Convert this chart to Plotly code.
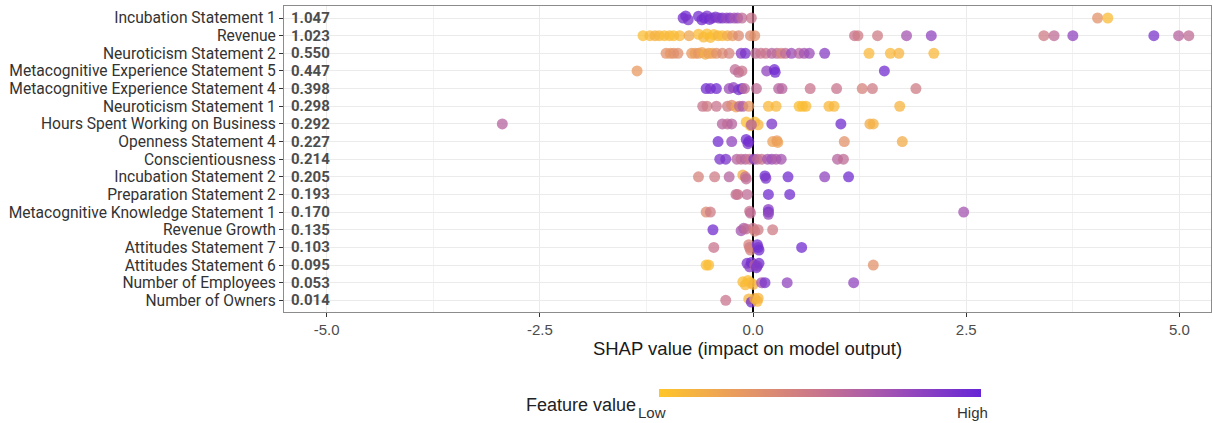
import plotly.graph_objects as go

features = [
    "Incubation Statement 1", "Revenue", "Neuroticism Statement 2",
    "Metacognitive Experience Statement 5", "Metacognitive Experience Statement 4",
    "Neuroticism Statement 1", "Hours Spent Working on Business", "Openness Statement 4",
    "Conscientiousness", "Incubation Statement 2", "Preparation Statement 2",
    "Metacognitive Knowledge Statement 1", "Revenue Growth", "Attitudes Statement 7",
    "Attitudes Statement 6", "Number of Employees", "Number of Owners",
]
mean_abs_shap = ["1.047", "1.023", "0.550", "0.447", "0.398", "0.298", "0.292", "0.227",
                 "0.214", "0.205", "0.193", "0.170", "0.135", "0.103", "0.095", "0.053", "0.014"]

shap_x = [
    [-0.82, -0.79, -0.76, -0.64, -0.60, -0.57, -0.54, -0.51, -0.48, -0.44, -0.40, -0.36, -0.31, -0.27, -0.22, -0.18, -0.13, -0.02, 4.04, 4.16],
    [-1.29, -1.21, -1.15, -1.10, -1.04, -0.98, -0.93, -0.86, -0.75, -0.64, -0.58, -0.54, -0.50, -0.46, -0.41, -0.36, -0.30, -0.24, -0.17, -0.03, 0.02, 1.19, 1.23, 1.46, 1.80, 2.09, 3.41, 3.53, 3.75, 4.70, 4.99, 5.11],
    [-1.02, -0.97, -0.93, -0.88, -0.72, -0.68, -0.64, -0.60, -0.56, -0.52, -0.48, -0.43, -0.36, -0.28, -0.14, -0.09, 0.03, 0.09, 0.15, 0.22, 0.28, 0.33, 0.38, 0.45, 0.54, 0.60, 0.66, 0.84, 1.36, 1.61, 1.71, 2.12],
    [-1.36, -0.21, -0.17, -0.13, 0.16, 0.25, 0.26, 1.54],
    [-0.55, -0.50, -0.43, -0.28, -0.23, -0.17, -0.13, -0.10, 0.04, 0.30, 0.34, 0.67, 0.98, 1.28, 1.40, 1.91],
    [-0.59, -0.54, -0.43, -0.30, -0.25, -0.20, -0.16, -0.12, -0.05, 0.18, 0.27, 0.54, 0.58, 0.62, 0.89, 0.95, 1.72],
    [-2.94, -0.36, -0.30, -0.25, -0.08, -0.03, 0.02, 0.06, -0.02, 0.22, 1.03, 1.37, 1.41],
    [-0.41, -0.25, -0.08, -0.06, -0.05, 0.23, 0.28, 0.29, 1.07, 1.75],
    [-0.39, -0.32, -0.19, -0.14, -0.09, -0.04, 0.01, 0.05, 0.10, 0.17, 0.22, 0.27, 0.33, 0.99, 1.06],
    [-0.64, -0.45, -0.28, -0.12, -0.09, -0.08, 0.14, 0.15, 0.41, 0.84, 1.12],
    [-0.20, -0.18, -0.07, 0.18, 0.43],
    [-0.55, -0.50, -0.04, -0.03, 0.18, 0.18, 0.18, 2.47],
    [-0.47, -0.14, -0.11, -0.08, 0.00, 0.02, 0.06, 0.23],
    [-0.46, -0.05, -0.04, -0.03, 0.05, 0.06, 0.07, 0.57],
    [-0.55, -0.52, -0.07, -0.04, -0.02, 0.02, 0.04, 0.07, 0.05, 1.41],
    [-0.12, -0.09, -0.06, -0.03, 0.00, 0.10, 0.14, 0.40, 1.18],
    [-0.32, -0.05, -0.02, 0.02, 0.05, 0.06],
]

feature_value = [
    [0.92, 0.95, 0.90, 0.95, 0.92, 0.95, 0.90, 0.95, 0.88, 0.92, 0.85, 0.90, 0.80, 0.85, 0.70, 0.75, 0.55, 0.50, 0.30, 0.06],
    [0.05, 0.08, 0.12, 0.10, 0.06, 0.08, 0.05, 0.08, 0.18, 0.06, 0.08, 0.05, 0.06, 0.04, 0.10, 0.06, 0.15, 0.25, 0.35, 0.35, 0.30, 0.50, 0.45, 0.45, 0.70, 0.80, 0.45, 0.55, 0.80, 0.90, 0.60, 0.55],
    [0.30, 0.28, 0.30, 0.32, 0.25, 0.22, 0.28, 0.20, 0.15, 0.22, 0.18, 0.30, 0.35, 0.40, 0.85, 0.90, 0.55, 0.50, 0.50, 0.60, 0.55, 0.40, 0.55, 0.75, 0.60, 0.70, 0.75, 0.85, 0.08, 0.08, 0.10, 0.08],
    [0.25, 0.55, 0.55, 0.50, 0.80, 0.95, 0.95, 0.95],
    [0.95, 0.90, 0.95, 0.75, 0.80, 0.90, 0.95, 0.55, 0.55, 0.60, 0.60, 0.50, 0.50, 0.40, 0.45, 0.45],
    [0.50, 0.45, 0.50, 0.45, 0.35, 0.20, 0.55, 0.65, 0.25, 0.08, 0.08, 0.05, 0.04, 0.06, 0.08, 0.08, 0.10],
    [0.60, 0.60, 0.55, 0.60, 0.05, 0.08, 0.05, 0.10, 0.60, 0.90, 0.95, 0.15, 0.12],
    [0.95, 0.80, 0.95, 0.90, 0.95, 0.20, 0.25, 0.20, 0.30, 0.15],
    [0.90, 0.90, 0.60, 0.55, 0.60, 0.50, 0.85, 0.55, 0.50, 0.70, 0.75, 0.65, 0.70, 0.60, 0.55],
    [0.40, 0.45, 0.60, 0.15, 0.50, 0.55, 0.95, 0.90, 0.95, 0.80, 0.95],
    [0.55, 0.50, 0.55, 0.95, 0.95],
    [0.35, 0.45, 0.50, 0.55, 0.85, 0.90, 0.80, 0.70],
    [0.95, 0.70, 0.65, 0.55, 0.50, 0.40, 0.45, 0.45],
    [0.50, 0.40, 0.45, 0.40, 0.95, 0.90, 0.95, 0.95],
    [0.05, 0.06, 0.90, 0.85, 0.95, 0.60, 0.90, 0.95, 0.85, 0.30],
    [0.05, 0.08, 0.06, 0.05, 0.10, 0.70, 0.90, 0.80, 0.80],
    [0.50, 0.10, 0.95, 0.15, 0.08, 0.10],
]

row_jitter = [
    [0, 0.12, -0.10, 0.10, -0.10, 0, 0.12, -0.08, 0, 0.05, 0, 0, 0, 0, 0, 0, 0, 0, 0, 0],
    [0, 0, 0, 0, 0, 0, 0, 0, 0, 0.08, -0.08, 0.1, -0.1, 0.06, 0, 0, 0, 0, 0, 0, 0, 0, 0, 0, 0, 0, 0, 0, 0, 0, 0, 0],
    [0, 0, 0, 0, 0, 0, 0, 0.05, -0.05, 0, 0, 0, 0, 0, 0, 0, 0, 0, 0, 0, 0, 0, 0, 0, 0, 0, 0, 0, 0, 0, 0, 0],
    [0, 0.08, -0.08, 0, 0, 0.08, -0.08, 0],
    [0, 0, 0, 0, 0.06, -0.06, 0, 0, 0, 0, 0, 0, 0, 0, 0, 0],
    [0, 0, 0, 0, 0.06, -0.04, 0, 0, 0, 0, 0, 0, 0, 0, 0, 0, 0],
    [0, 0, 0, 0, 0.10, -0.10, 0.10, -0.05, -0.05, 0, 0, 0, 0],
    [0, 0, 0.12, -0.12, 0, 0, 0.05, -0.05, 0, 0],
    [0, 0, 0, 0, 0, 0, 0, 0, 0, 0, 0, 0, 0, 0, 0],
    [0, 0, 0, 0.10, 0, -0.12, 0.05, -0.08, 0, 0, 0],
    [0, 0, 0, 0, 0],
    [0, 0, 0.05, -0.05, 0.15, 0, -0.12, 0],
    [0, -0.05, 0.08, 0.05, 0.08, -0.08, 0, 0],
    [0, 0.15, 0, -0.15, 0.15, 0, -0.15, 0],
    [0, 0, 0.10, -0.10, 0.15, 0, -0.15, 0.10, -0.05, 0],
    [0.05, -0.12, 0.12, 0, -0.10, 0, 0, 0, 0],
    [0, 0.08, -0.10, 0.10, -0.05, 0.12],
]

x_ticks = [-5.0, -2.5, 0.0, 2.5, 5.0]
x_minor = [-3.75, -1.25, 1.25, 3.75]
legend_labels = ["Low", "High"]

colorscale = [
    [0.0, "#FFC629"],
    [0.25, "#E89A60"],
    [0.5, "#C8748E"],
    [0.75, "#9B4DB8"],
    [1.0, "#6626D6"],
]

n = len(features)
row_pos = [n - i for i in range(n)]

xs, ys, cs = [], [], []
for pos, xr, cr, jr in zip(row_pos, shap_x, feature_value, row_jitter):
    for xv, cv, dv in zip(xr, cr, jr):
        xs.append(xv)
        ys.append(pos + dv)
        cs.append(cv)

fig = go.Figure()
fig.add_trace(go.Scatter(
    x=xs, y=ys, mode="markers", hoverinfo="skip", showlegend=False,
    marker=dict(
        size=11, color=cs, colorscale=colorscale, cmin=0, cmax=1, opacity=0.75,
        line=dict(width=0),
        colorbar=dict(
            orientation="h", x=0.578, xanchor="center", y=-0.264, yanchor="middle",
            len=342, lenmode="pixels", thickness=8, thicknessmode="pixels",
            outlinewidth=0, showticklabels=False, ticks="",
        ),
    ),
))

for pos, txt in zip(row_pos, mean_abs_shap):
    fig.add_annotation(
        x=0.005, xref="paper", y=pos, yref="y", text=f"<b>{txt}</b>", showarrow=False,
        xanchor="left", yanchor="middle",
        font=dict(family="Roboto", size=15, color="#4D4D4D"),
    )

fig.add_annotation(
    x=0.320, xref="paper", y=-0.304, yref="paper", text="Feature value", showarrow=False,
    xanchor="center", yanchor="middle",
    font=dict(family="Liberation Sans, Arial", size=18, color="#222222"),
)
for lx, lab in zip([0.397, 0.743], legend_labels):
    fig.add_annotation(
        x=lx, xref="paper", y=-0.330, yref="paper", text=lab, showarrow=False,
        xanchor="center", yanchor="middle",
        font=dict(family="Liberation Sans, Arial", size=15, color="#333333"),
    )

fig.update_layout(
    width=1213, height=423,
    margin=dict(l=284, r=2, t=6, b=111),
    paper_bgcolor="white", plot_bgcolor="white",
    xaxis=dict(
        range=[-5.5, 5.37], tickvals=x_ticks, ticktext=[f"{v:.1f}" for v in x_ticks],
        showgrid=True, gridcolor="#EBEBEB", gridwidth=1,
        minor=dict(tickvals=x_minor, showgrid=True, gridcolor="#F2F2F2", gridwidth=1, ticks=""),
        ticks="outside", ticklen=4, tickcolor="#333333",
        showline=True, linecolor="#8C8C8C", linewidth=1, mirror=True,
        zeroline=True, zerolinecolor="black", zerolinewidth=1.5,
        tickfont=dict(family="Liberation Sans, Arial", size=15, color="#4D4D4D"),
        title=dict(text="SHAP value (impact on model output)", standoff=3,
                   font=dict(family="Liberation Sans, Arial", size=18.5, color="#1A1A1A")),
    ),
    yaxis=dict(
        range=[0.34, 17.68], tickvals=row_pos, ticktext=features,
        showgrid=True, gridcolor="#EBEBEB", gridwidth=1,
        ticks="outside", ticklen=4, tickcolor="#333333",
        showline=True, linecolor="#8C8C8C", linewidth=1, mirror=True, zeroline=False,
        tickfont=dict(family="Roboto", size=15.6, color="#333333"),
    ),
)

fig.write_html("out.html", config={"displayModeBar": False},
               post_script="document.body.style.margin='0';")
